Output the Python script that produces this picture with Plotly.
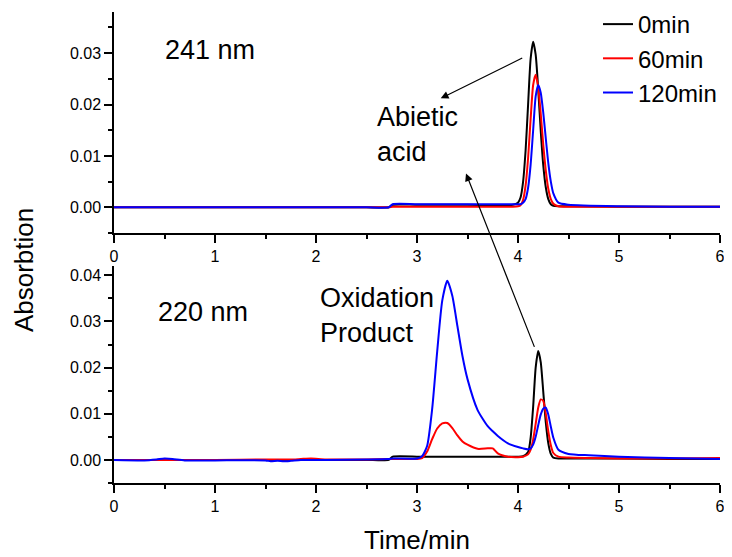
import plotly.graph_objects as go

# ---------------- data ----------------
series_names = ["0min", "60min", "120min"]
series_colors = ["#000000", "#ff0000", "#0000ff"]

# 241 nm chromatograms (top panel)
top_t = [0, 0.5, 1.0, 1.5, 2.0, 2.5, 2.72, 2.76, 3.0, 3.5, 3.95, 4.0, 4.025, 4.05,
         4.075, 4.1, 4.125, 4.15, 4.175, 4.2, 4.225, 4.25, 4.275, 4.3, 4.325, 4.35,
         4.4, 4.5, 5.0, 5.5, 6.0]
top_0min = [0, 0, 0, 0, 0, 0, 0, 0.0005, 0.0005, 0.0005, 0.0005, 0.0009, 0.0019, 0.0049,
            0.0110, 0.0200, 0.0289, 0.0322, 0.0297, 0.0230, 0.0149, 0.0082, 0.0039, 0.0016,
            0.0006, 0.0003, 0.0002, 0.0002, 0.0001, 0.0001, 0.0001]
top_60min = [0, 0, 0, 0, 0, 0, 0, 0.0001, 0.0001, 0.0001, 0.0001, 0.0002, 0.0004, 0.0014,
             0.0042, 0.0096, 0.0172, 0.0238, 0.0258, 0.0234, 0.0182, 0.0122, 0.0072, 0.0036,
             0.0016, 0.0007, 0.0002, 0.0001, 0.0001, 0.0001, 0.0001]
top_120min = [0, 0, 0, 0, 0, 0, 0, 0.0006, 0.0006, 0.0006, 0.0006, 0.0006, 0.0006, 0.0009,
              0.0016, 0.0038, 0.0083, 0.0150, 0.0216, 0.0238, 0.0223, 0.0184, 0.0134, 0.0086,
              0.0050, 0.0027, 0.0009, 0.0005, 0.0002, 0.0001, 0.0001]

# 220 nm chromatograms (bottom panel)
bot_t = [0, 0.3, 0.42, 0.5, 0.58, 0.7, 1.0, 1.5, 1.55, 1.62, 1.68, 1.75, 1.85, 1.95, 2.1,
         2.5, 2.72, 2.76, 3.0, 3.05, 3.1, 3.15, 3.2, 3.25, 3.3, 3.35, 3.4, 3.45, 3.5, 3.6,
         3.7, 3.75, 3.8, 3.9, 4.0, 4.05, 4.1, 4.125, 4.15, 4.175, 4.2, 4.225, 4.25, 4.275,
         4.3, 4.325, 4.35, 4.4, 4.5, 4.7, 5.0, 5.5, 6.0]
bot_0min = [0, 0, 0, 0, 0, 0, 0, 0, 0, 0, 0, 0, 0, 0, 0, 0, 0,
            0.0007, 0.0007, 0.0007, 0.0007, 0.0007, 0.0007, 0.0007, 0.0007, 0.0007, 0.0007,
            0.0007, 0.0007, 0.0007, 0.0007, 0.0007, 0.0007, 0.0007, 0.0007,
            0.0008, 0.0017, 0.0048, 0.0115, 0.0200, 0.0236, 0.0212, 0.0148, 0.0082, 0.0036,
            0.0013, 0.0005, 0.0003, 0.0003, 0.0003, 0.0003, 0.0002, 0.0002]
bot_60min = [0, 0, 0, 0, 0, 0, 0, 0.0001, 0.0001, 0.0001, 0.0001, 0.0001, 0.0002, 0.0003,
             0.0001, 0.0001, 0.0002, 0.0002, 0.0002, 0.0004, 0.0018, 0.0045, 0.0068, 0.0079,
             0.0080, 0.0069, 0.0053, 0.0040, 0.0033, 0.0024, 0.0025, 0.0025, 0.0014, 0.0007,
             0.0006, 0.0007, 0.0012, 0.0022, 0.0044, 0.0078, 0.0113, 0.0131, 0.0128, 0.0100,
             0.0062, 0.0032, 0.0015, 0.0007, 0.0005, 0.0004, 0.0003, 0.0003, 0.0004]
bot_120min = [0, -0.0001, 0.0001, 0.0003, 0.0002, -0.0001, -0.0001, -0.0001, -0.0003, -0.0002,
              -0.0003, -0.0002, 0, 0, 0, 0.0001, 0.0002, 0.0003, 0.0003, 0.0008, 0.0030,
              0.0110, 0.0235, 0.0345, 0.0388, 0.0355, 0.0290, 0.0225, 0.0175, 0.0108, 0.0073,
              0.0062, 0.0052, 0.0036, 0.0028, 0.0025, 0.0023, 0.0025, 0.0033, 0.0050, 0.0075,
              0.0098, 0.0111, 0.0113, 0.0098, 0.0072, 0.0048, 0.0022, 0.0013, 0.0010, 0.0007,
              0.0004, 0.0002]

top_series = [top_0min, top_60min, top_120min]
bot_series = [bot_0min, bot_60min, bot_120min]

x_ticks = [0, 1, 2, 3, 4, 5, 6]
top_y_ticks = [0.00, 0.01, 0.02, 0.03]
bot_y_ticks = [0.00, 0.01, 0.02, 0.03, 0.04]

FONT = "Liberation Sans, Arial, sans-serif"

fig = go.Figure()
for name, col, ys in zip(series_names, series_colors, top_series):
    fig.add_trace(go.Scatter(x=top_t, y=ys, mode="lines", name=name,
                             line=dict(color=col, width=2, shape="spline", smoothing=0.6),
                             xaxis="x", yaxis="y"))
for name, col, ys in zip(series_names, series_colors, bot_series):
    fig.add_trace(go.Scatter(x=bot_t, y=ys, mode="lines", name=name, showlegend=False,
                             line=dict(color=col, width=2, shape="spline", smoothing=0.6),
                             xaxis="x2", yaxis="y2"))

axis_common = dict(showline=True, linecolor="black", linewidth=1.5, ticks="outside",
                   ticklen=8, tickwidth=1.5, tickcolor="black", showgrid=False,
                   zeroline=False, tickfont=dict(family=FONT, size=16, color="black"))
xminor = dict(ticks="outside", ticklen=4, tickwidth=1.5, dtick=0.5, tick0=0,
              tickcolor="black", showgrid=False)
yminor = dict(ticks="outside", ticklen=4, tickwidth=1.5, dtick=0.005, tick0=0,
              tickcolor="black", showgrid=False)

# page body adds an 8px offset, so the figure is smaller than the window
fig.update_layout(
    width=724, height=549,
    margin=dict(l=106, r=12, t=4, b=74, autoexpand=False),
    paper_bgcolor="white", plot_bgcolor="white",
    font=dict(family=FONT, color="black"),
    xaxis=dict(domain=[0, 1], range=[0, 6], tickvals=x_ticks, anchor="y",
               ticklabeloverflow="allow", minor=xminor, **axis_common),
    yaxis=dict(domain=[0.5308, 1], range=[-0.005, 0.038], tickvals=top_y_ticks,
               tickformat=".2f", anchor="x", minor=yminor, **axis_common),
    xaxis2=dict(domain=[0, 1], range=[0, 6], tickvals=x_ticks, anchor="y2",
                ticklabeloverflow="allow", minor=xminor, **axis_common),
    yaxis2=dict(domain=[0, 0.4607], range=[-0.005, 0.042], tickvals=bot_y_ticks,
                tickformat=".2f", anchor="x2", minor=yminor, **axis_common),
    legend=dict(x=0.7987, y=1.0212, xanchor="left", yanchor="top",
                bgcolor="rgba(0,0,0,0)", borderwidth=0,
                font=dict(family=FONT, size=24, color="black"),
                tracegroupgap=0),
    showlegend=True,
)

ann_font = dict(family=FONT, size=27, color="black")
fig.add_annotation(text="241 nm", x=0.95, y=0.0306, xref="x", yref="y",
                   showarrow=False, font=ann_font)
fig.add_annotation(text="220 nm", x=0.885, y=0.032, xref="x2", yref="y2",
                   showarrow=False, font=ann_font)
fig.add_annotation(text="Abietic<br>acid", x=2.58, y=0.0141, xref="x", yref="y",
                   xanchor="left", yanchor="middle", align="left", showarrow=False,
                   font=ann_font)
fig.add_annotation(text="Oxidation<br>Product", x=2.02, y=0.0312, xref="x2", yref="y2",
                   xanchor="left", yanchor="middle", align="left", showarrow=False,
                   font=ann_font)
# arrows
fig.add_annotation(text="", x=3.235, y=0.0212, xref="x", yref="y", ax=83, ay=-41,
                   showarrow=True, arrowhead=2, arrowsize=1.3, arrowwidth=1.2,
                   arrowcolor="black")
fig.add_annotation(text="", x=3.485, y=0.0066, xref="x", yref="y", ax=69, ay=175,
                   showarrow=True, arrowhead=2, arrowsize=1.3, arrowwidth=1.2,
                   arrowcolor="black")
# axis titles
fig.add_annotation(text="Time/min", x=0.5, y=-0.121, xref="paper", yref="paper",
                   xanchor="center", yanchor="middle", showarrow=False,
                   font=dict(family=FONT, size=26, color="black"))
fig.add_annotation(text="Absorbtion", x=-0.1485, y=0.452, xref="paper", yref="paper",
                   xanchor="center", yanchor="middle", textangle=-90, showarrow=False,
                   font=dict(family=FONT, size=26, color="black"))

fig.write_html("out.html")
